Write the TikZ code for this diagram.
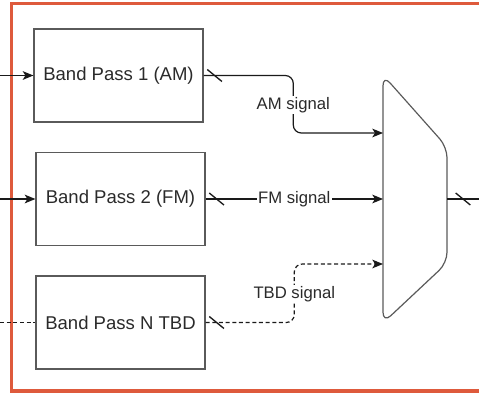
\documentclass[tikz,border=0pt]{standalone}
\usepackage{fontspec}
\setmainfont{Liberation Sans}
\usetikzlibrary{arrows.meta, positioning, calc}
\definecolor{mFrame}{HTML}{DE5A3C}
\definecolor{mLine}{HTML}{1A1A1A}
\definecolor{mBox}{HTML}{5A5A5A}
\definecolor{mText}{HTML}{2A2A2A}
\tikzset{
  bpbox/.style={draw=mBox, line width=0.9pt, minimum width=126.75pt,
                minimum height=69.75pt, inner sep=0pt, text=mText,
                font=\fontsize{13.9}{16}\selectfont},
  sig/.style={mLine, line width=0.9pt},
  sigarrow/.style={sig, -{Stealth[length=8pt, width=6.5pt, inset=2pt]}},
  sigdash/.style={sig, dash pattern=on 3pt off 2pt},
  siglabel/.style={fill=white, inner sep=1pt, text=mText,
                   font=\fontsize{12.5}{14}\selectfont},
  frame/.style={mFrame, line width=2.6pt},
  slash/.pic={\draw[mLine, line width=1pt] (-5.5pt,4.5pt) -- (5.5pt,-4.5pt);},
}
\begin{document}
\begin{tikzpicture}[x=0.75pt, y=-0.75pt]
    \clip (0,0) rectangle (479,393);
    \draw[frame] (11.5,3.5) rectangle (495,391);
    % band pass filters
    \node[bpbox] (b1) at (118.5,75.5) {Band Pass 1 (AM)};
    \node[bpbox] (b2) at (120.5,199)  {Band Pass 2 (FM)};
    \node[bpbox] (b3) at (120.5,322.5) {Band Pass N TBD};
    \coordinate (in1) at (0,75.5);
    \coordinate (in2) at (0,199);
    \coordinate (in3) at (0,322.5);
    % mux
    \draw[draw=mBox, line width=0.9pt, rounded corners=8pt]
      (383,75) -- (447,147) -- (447,263) -- (383,323) -- cycle;
    \coordinate (m1)  at (383,133);
    \coordinate (m2)  at (383,199);
    \coordinate (m3)  at (383,264);
    \coordinate (mo)  at (447,199);
    \coordinate (out) at (479,199);
    % inputs
    \draw[sigarrow] (in1) -- (b1.west);
    \draw[sigarrow] (in2) -- (b2.west);
    \draw[sigdash]  (in3) -- (b3.west);
    % signals
    \draw[sigarrow, rounded corners=6pt]
      (b1.east) -| ($(b1.east)!.5!(m1)$) |- (m1);
    \draw[sigarrow] (b2.east) -- (m2);
    \draw[sigarrow, sigdash, rounded corners=6pt]
      (b3.east) -| ($(b3.east)!.5!(m3)$) |- (m3);
    \draw[sig] (mo) -- (out);
    \node[siglabel] (lam)  at ($(b1.east)!.5!(m1)+(0,1)$) {AM signal};
    \node[siglabel] (lfm)  at ($(b2.east)!.5!(m2)$)       {FM signal};
    \node[siglabel] (ltbd) at ($(b3.east)!.5!(m3)+(0,1)$) {TBD signal};
    \pic at ($(b1.east)+(11,0)$) {slash};
    \pic at ($(b2.east)+(11,0)$) {slash};
    \pic at ($(b3.east)+(11,0)$) {slash};
    \pic at ($(mo)+(16,0)$) {slash};
\end{tikzpicture}
\end{document}
